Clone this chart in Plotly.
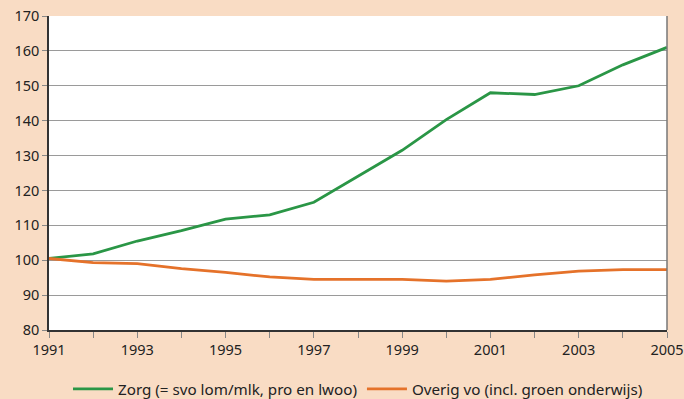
import plotly.graph_objects as go

years = list(range(1991, 2006))
zorg = [100.5, 101.8, 105.5, 108.5, 111.8, 113.0, 116.6, 124.0, 131.5, 140.3, 148.0, 147.5, 150.0, 156.0, 161.0]
overig = [100.5, 99.3, 99.0, 97.6, 96.5, 95.2, 94.5, 94.5, 94.5, 94.0, 94.5, 95.8, 96.9, 97.3, 97.3]
names = ["Zorg (= svo lom/mlk, pro en lwoo)", "Overig vo (incl. groen onderwijs)"]
colors = ["#2A9646", "#E5722A"]

fig = go.Figure()
for vals, name, col in zip([zorg, overig], names, colors):
    fig.add_trace(go.Scatter(
        x=years, y=vals, name=name, mode="lines",
        line=dict(color=col, width=2.8),
    ))

font = "Noto Sans, Open Sans, sans-serif"
fig.update_layout(
    width=684, height=399,
    margin=dict(l=49, r=17, t=16, b=69, autoexpand=False),
    paper_bgcolor="#F9DCC4",
    plot_bgcolor="#FFFFFF",
    font=dict(family=font, size=14.5, color="#222222"),
    showlegend=True,
    legend=dict(orientation="h", x=0.5, xanchor="center",
                yref="container", y=0.025, yanchor="middle",
                font=dict(size=15.2), bgcolor="rgba(0,0,0,0)", itemwidth=40),
    xaxis=dict(
        range=[1991, 2005], tickvals=list(range(1991, 2006, 2)),
        ticks="outside", ticklen=6, tickcolor="#888888",
        showgrid=False, showline=True, linecolor="#333333", linewidth=1.5,
        minor=dict(tickvals=list(range(1991, 2006)), ticks="outside", ticklen=6, tickcolor="#888888", showgrid=False),
        zeroline=False,
    ),
    yaxis=dict(
        range=[80, 170], dtick=10,
        ticks="outside", ticklen=5, tickcolor="#888888",
        showgrid=True, gridcolor="#9A9A9A", gridwidth=1.3,
        showline=True, linecolor="#333333", linewidth=1.5,
        zeroline=False,
    ),
    shapes=[dict(type="line", xref="paper", yref="paper", x0=1, x1=1, y0=0, y1=1,
                 line=dict(color="#777777", width=1.5))],
)

fig.write_html("out.html")
